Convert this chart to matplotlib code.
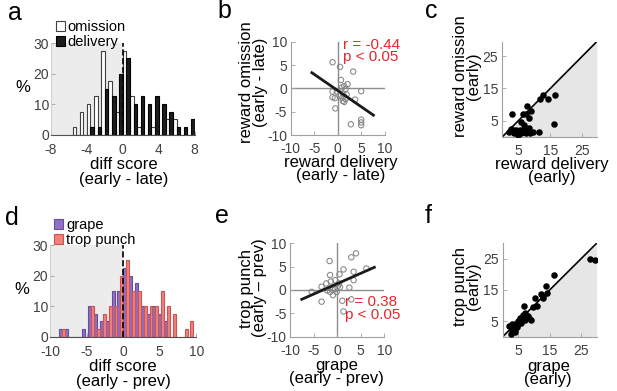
import matplotlib
matplotlib.use('Agg')
import matplotlib.pyplot as plt
import numpy as np

plt.rcParams['font.family'] = ['Liberation Sans', 'DejaVu Sans']
plt.rcParams['axes.unicode_minus'] = False

# panel a: diff score histograms (percent of units)
a_centers = [-5.2, -4.4, -3.6, -2.8, -2.0, -1.2, -0.4, 0.4, 1.2, 2.0, 2.8, 3.6, 4.4, 5.2, 6.0, 6.8, 7.6]
a_omission = [2.5, 7.5, 10, 12.5, 27.5, 17.5, 7.5, 27.5, 12.5, 2.5, 0, 2.5, 0, 5, 5, 0, 0]
a_delivery = [0, 0, 2.5, 2.5, 15, 12.5, 20, 25, 10, 12.5, 10, 12.5, 10, 7.5, 2.5, 2.5, 5]

# panel b: reward omission vs reward delivery (early - late)
b_delivery = [-1.1, 0.5, 3.3, 0.7, 2.1, 1.4, 1.7, -1.1, -0.2, 1.2, 1.9, 5.0, -1.1, -0.6, 1.0,
              1.7, 3.7, 1.1, 1.4, -0.5, 5.0, 5.0, 5.0, 2.8, 0.4, 0.9]
b_omission = [5.6, 4.6, 3.6, 1.8, 0.9, 0.5, -0.1, -0.7, -0.7, -1.2, -1.3, -0.6, -1.9, -2.1, -2.0,
              -2.3, -2.4, -2.7, -2.9, -4.3, -6.7, -7.3, -7.9, -7.7, -1.6, 0.2]
b_fit = (-0.695, -0.46)
b_fit_range = (-5.5, 7.6)

# panel c: early responses
c_delivery = [3.0, 7.7, 6.5, 7.4, 8.9, 8.2, 11.8, 12.8, 14.2, 16.4, 16.1, 5.9, 6.6, 2.6, 3.3,
              4.1, 4.6, 5.4, 6.2, 7.0, 7.7, 8.2, 3.6, 4.8, 5.7, 7.3, 8.5, 9.5, 11.3, 4.8, 2.0]
c_omission = [7.0, 9.6, 7.1, 7.1, 8.0, 5.7, 11.7, 13.0, 11.7, 13.0, 3.9, 4.5, 3.7, 2.4, 2.1,
              2.1, 1.6, 2.1, 1.6, 2.3, 1.6, 2.6, 1.25, 0.9, 1.0, 1.25, 1.25, 1.6, 1.6, 0.5, 1.6]

# panel d: diff score histograms (percent of units)
d_centers = [-8.4, -7.6, -6.8, -6.0, -5.2, -4.4, -3.6, -2.8, -2.0, -1.2, -0.4, 0.4,
             1.2, 2.0, 2.8, 3.6, 4.4, 5.2, 6.0, 6.8, 7.6, 8.4, 9.2]
d_grape = [2.5, 2.5, 0, 0, 2.5, 10, 7.5, 5, 5, 15, 15, 22.5, 20, 17.5, 10, 7.5, 10, 7.5, 5, 0, 0, 0, 0]
d_punch = [2.5, 0, 0, 0, 0, 10, 2.5, 7.5, 10, 10, 20, 25, 15, 15, 10, 10, 10, 15, 10, 7.5, 0, 2.5, 5]

# panel e: trop punch vs grape (early - prev)
e_grape = [-1.6, 3.0, 4.0, 6.2, 1.35, 3.5, -1.5, 0.5, 3.5, -0.4, -1.35, -2.3, 0.4, -3.3, -0.4,
           0.6, 2.6, -2.1, -1.5, -0.1, -0.9, -5.4, -3.3, 1.1, 3.0, 1.35, 0.2, -0.9]
e_punch = [6.2, 7.0, 7.85, 4.6, 4.4, 3.9, 3.2, 3.35, 2.1, 2.1, 1.8, 1.4, 1.4, 0.7, 0.2,
           0.6, 0.5, -0.1, -0.4, -0.4, -1.1, -0.4, -2.5, -2.3, -2.0, -4.6, 0.9, 0.0]
e_fit = (0.445, 1.34)
e_fit_range = (-7.5, 7.9)

# panel f: early responses
f_grape = [2.0, 3.0, 3.5, 4.0, 4.0, 4.5, 5.0, 5.5, 6.0, 6.5, 7.0, 7.0, 6.7, 8.0, 8.5, 9.0, 9.6,
           10.4, 11.0, 12.2, 12.9, 13.0, 13.75, 14.0, 16.3, 28.0, 29.5, 2.5, 3.5, 4.0, 5.0, 3.0]
f_punch = [3.5, 4.0, 2.5, 2.0, 4.0, 3.0, 5.0, 6.0, 4.5, 7.0, 7.5, 5.5, 9.9, 6.5, 6.0, 5.5, 9.4,
           12.3, 10.0, 13.75, 13.0, 12.5, 16.4, 14.0, 19.8, 25.0, 24.5, 1.0, 3.0, 1.5, 4.0, 2.0]

TICK_COLOR = '#404040'
SPINE_COLOR = '#a0a0a0'
RED = '#e8262b'
LABEL_FS = 12


def style_axes(ax, ypad, xpad=5):
    for s in ['top', 'right']:
        ax.spines[s].set_visible(False)
    for s in ['left', 'bottom']:
        ax.spines[s].set_color(SPINE_COLOR)
        ax.spines[s].set_linewidth(0.8)
    ax.tick_params(direction='in', length=3, width=0.6, color=SPINE_COLOR,
                   labelcolor=TICK_COLOR, labelsize=10)
    ax.tick_params(axis='x', pad=xpad)
    ax.tick_params(axis='y', pad=ypad)


def hist_panel(ax, centers, s1, s2, w, xlim, xticks, c1, c2):
    centers = np.array(centers)
    ax.axvspan(xlim[0], 0, ymin=0, ymax=1, color='#ececec', lw=0, zorder=0)
    b1 = ax.bar(centers - w / 2, s1, width=w, color=c1[0], edgecolor=c1[1], linewidth=0.8, zorder=2)
    b2 = ax.bar(centers + w / 2, s2, width=w, color=c2[0], edgecolor=c2[1], linewidth=0.8, zorder=2)
    ax.plot([0, 0], [0, 30], 'k--', lw=1.2, zorder=3)
    ax.set_xlim(xlim)
    ax.set_ylim(0, 30)
    ax.set_xticks(xticks)
    ax.set_yticks([0, 10, 20, 30])
    style_axes(ax, 1.5, xpad=6)
    ax.spines['bottom'].set_color('#505050')
    ax.spines['left'].set_color('#d0d0d0')
    return b1, b2


def scatter_panel(ax, x, y, fit, fit_range):
    ax.axhline(0, color='#8c8c8c', lw=1.0, zorder=1)
    ax.axvline(0, color='#8c8c8c', lw=1.0, zorder=1)
    ax.scatter(x, y, s=15, facecolors='none', edgecolors='#858585', linewidths=0.75, zorder=2)
    fx = np.array(fit_range)
    ax.plot(fx, fit[0] * fx + fit[1], color='#1a1a1a', lw=2, zorder=3)
    ax.set_xlim(-10, 10)
    ax.set_ylim(-10, 10)
    ax.set_xticks([-10, -5, 0, 5, 10])
    ax.set_yticks([-10, -5, 0, 5, 10])
    style_axes(ax, 2.5)


def early_panel(ax, x, y, lim):
    ax.fill_between([0, lim], [0, 0], [0, lim], color='#e6e6e6', lw=0, zorder=0)
    ax.plot([0, lim], [0, lim], color='k', lw=1.2, zorder=2)
    ax.scatter(x, y, s=22, color='k', zorder=3, linewidths=0)
    ax.set_xlim(0, lim)
    ax.set_ylim(0, lim)
    ax.set_xticks([5, 15, 25])
    ax.set_yticks([5, 15, 25])
    style_axes(ax, 3)


def labels(ax, xl, yl, xpos, ypos, ls=0.85, yrot=90):
    ax.set_xlabel(xl, fontsize=LABEL_FS, linespacing=ls)
    ax.xaxis.set_label_coords(*xpos)
    if yrot == 90:
        ax.set_ylabel(yl, fontsize=LABEL_FS, linespacing=ls)
    else:
        ax.set_ylabel(yl, fontsize=LABEL_FS, rotation=0, ha='center', va='center')
    ax.yaxis.set_label_coords(*ypos)


fig = plt.figure(figsize=(6.17, 3.91), dpi=100)

ax_a = fig.add_axes([0.0827, 0.656, 0.2326, 0.234])
ax_b = fig.add_axes([0.4711, 0.6547, 0.1524, 0.2386])
ax_c = fig.add_axes([0.8144, 0.6504, 0.1527, 0.243])
ax_d = fig.add_axes([0.0815, 0.1389, 0.2366, 0.2345])
ax_e = fig.add_axes([0.470, 0.1389, 0.1528, 0.2389])
ax_f = fig.add_axes([0.8147, 0.1389, 0.1523, 0.2389])

legend_kw = dict(loc='upper left', bbox_transform=fig.transFigure, frameon=False, fontsize=10.5,
                 handlelength=0.6, handleheight=0.7, handletextpad=0.2, labelspacing=0.05,
                 borderpad=0, borderaxespad=0)

bars = hist_panel(ax_a, a_centers, a_omission, a_delivery, 0.4, (-8, 8), [-8, -4, 0, 4, 8],
                  ('white', '#404040'), ('#1c1c1c', '#000000'))
ax_a.legend(bars, ['omission', 'delivery'], bbox_to_anchor=(0.091, 0.948), **legend_kw)
labels(ax_a, 'diff score\n(early - late)', '%', (0.509, -0.25), (-0.2, 0.51), ls=0.95, yrot=0)

bars = hist_panel(ax_d, d_centers, d_grape, d_punch, 0.4, (-10, 10), [-10, -5, 0, 5, 10],
                  ('#8f72c6', '#6a4c9c'), ('#f47f7c', '#c95653'))
ax_d.legend(bars, ['grape', 'trop punch'], bbox_to_anchor=(0.088, 0.442), **legend_kw)
labels(ax_d, 'diff score\n(early - prev)', '%', (0.5, -0.245), (-0.194, 0.51), ls=0.95, yrot=0)

scatter_panel(ax_b, b_delivery, b_omission, b_fit, b_fit_range)
ax_b.text(1.2, 10.9, 'r = -0.44\np < 0.05', color=RED, fontsize=11, va='top', ha='left',
          linespacing=0.9)
labels(ax_b, 'reward delivery\n(early - late)', 'reward omission\n(early - late)',
       (0.53, -0.21), (-0.245, 0.57))

scatter_panel(ax_e, e_grape, e_punch, e_fit, e_fit_range)
ax_e.text(1.6, -1.1, 'r = 0.38\np < 0.05', color=RED, fontsize=11, va='top', ha='left',
          linespacing=0.9)
labels(ax_e, 'grape\n(early - prev)', 'trop punch\n(early \u2013 prev)',
       (0.495, -0.23), (-0.245, 0.52))

early_panel(ax_c, c_delivery, c_omission, 29.5)
labels(ax_c, 'reward delivery\n(early)', 'reward omission\n(early)',
       (0.522, -0.215), (-0.23, 0.64))

early_panel(ax_f, f_grape, f_punch, 30)
labels(ax_f, 'grape\n(early)', 'trop punch\n(early)',
       (0.485, -0.235), (-0.231, 0.54))

for letter, x, y in [('a', 0.013, 0.948), ('b', 0.352, 0.953), ('c', 0.689, 0.953),
                     ('d', 0.008, 0.425), ('e', 0.348, 0.43), ('f', 0.689, 0.43)]:
    fig.text(x, y, letter, fontsize=18, ha='left', va='baseline')

fig.savefig('out.png', dpi=100)
